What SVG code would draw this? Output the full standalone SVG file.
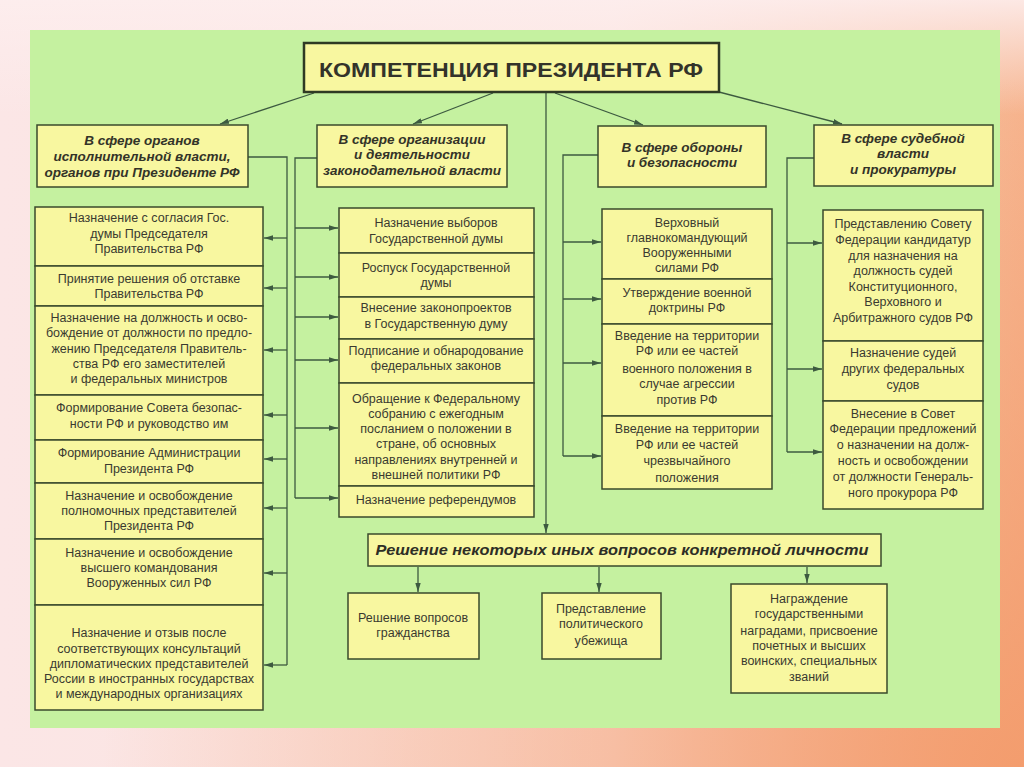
<svg xmlns="http://www.w3.org/2000/svg" width="1024" height="767" viewBox="0 0 1024 767">
<defs>
<linearGradient id="bgH" x1="0" y1="0" x2="1" y2="0">
<stop offset="0" stop-color="#fbe6e6"/>
<stop offset="0.6" stop-color="#fbe2dc"/>
<stop offset="1" stop-color="#f6b48e"/>
</linearGradient>
<radialGradient id="bgR" cx="1" cy="1" r="0.9">
<stop offset="0" stop-color="#f39a6a" stop-opacity="0.9"/>
<stop offset="1" stop-color="#f39a6a" stop-opacity="0"/>
</radialGradient>
<linearGradient id="bgV" x1="0" y1="0" x2="0" y2="1">
<stop offset="0" stop-color="#fdeeee" stop-opacity="0.9"/>
<stop offset="0.15" stop-color="#fdeeee" stop-opacity="0"/>
</linearGradient>
<marker id="ah" viewBox="0 0 10 6" refX="10" refY="3" markerWidth="9" markerHeight="5.5" markerUnits="userSpaceOnUse" orient="auto">
<path d="M0,0 L10,3 L0,6 Z" fill="#3d5a40"/>
</marker>
<style>
.box{fill:#f8f7a0;stroke:#3a4a2c;stroke-width:1.5}
.tbox{fill:#f8f7a0;stroke:#2f3a24;stroke-width:2.5}
.t{font-family:"Liberation Sans",Arial,sans-serif;font-size:12.5px;fill:#3a3a30;text-anchor:middle}
.h{font-family:"Liberation Sans",Arial,sans-serif;font-size:13.5px;font-style:italic;font-weight:bold;fill:#333328;text-anchor:middle}
.title{font-family:"Liberation Sans",Arial,sans-serif;font-size:21px;font-weight:bold;fill:#33332a;text-anchor:middle}
.sub{font-family:"Liberation Sans",Arial,sans-serif;font-size:15px;font-weight:bold;font-style:italic;fill:#2e2e26;text-anchor:middle}
.c{fill:none;stroke:#3d5a40;stroke-width:1.3}
.a{fill:none;stroke:#3d5a40;stroke-width:1.3;marker-end:url(#ah)}
</style>
</defs>
<rect x="0" y="0" width="1024" height="767" fill="url(#bgH)"/>
<rect x="0" y="0" width="1024" height="767" fill="url(#bgR)"/>
<rect x="0" y="0" width="1024" height="767" fill="url(#bgV)"/>
<rect x="30" y="30" width="970" height="698" fill="#c5f1a0"/>

<g id="connectors">
<line class="a" x1="314" y1="93" x2="220" y2="124"/>
<line class="a" x1="493" y1="93" x2="413" y2="124"/>
<line class="a" x1="555" y1="93" x2="643" y2="125"/>
<line class="a" x1="719" y1="92" x2="842" y2="124"/>
<line class="a" x1="546" y1="93" x2="546" y2="533"/>
<polyline class="c" points="248,157 287,157 287,665"/>
<line class="a" x1="287" y1="238" x2="264" y2="238"/>
<line class="a" x1="287" y1="288" x2="264" y2="288"/>
<line class="a" x1="287" y1="350" x2="264" y2="350"/>
<line class="a" x1="287" y1="415" x2="264" y2="415"/>
<line class="a" x1="287" y1="459" x2="264" y2="459"/>
<line class="a" x1="287" y1="508" x2="264" y2="508"/>
<line class="a" x1="287" y1="573" x2="264" y2="573"/>
<line class="a" x1="287" y1="665" x2="264" y2="665"/>
<polyline class="c" points="317,158 295,158 295,498"/>
<line class="a" x1="295" y1="228" x2="338" y2="228"/>
<line class="a" x1="295" y1="277" x2="338" y2="277"/>
<line class="a" x1="295" y1="317" x2="338" y2="317"/>
<line class="a" x1="295" y1="360" x2="338" y2="360"/>
<line class="a" x1="295" y1="428" x2="338" y2="428"/>
<line class="a" x1="295" y1="498" x2="338" y2="498"/>
<polyline class="c" points="598,155 563,155 563,456"/>
<line class="a" x1="563" y1="242" x2="601" y2="242"/>
<line class="a" x1="563" y1="299" x2="601" y2="299"/>
<line class="a" x1="563" y1="363" x2="601" y2="363"/>
<line class="a" x1="563" y1="456" x2="601" y2="456"/>
<polyline class="c" points="814,158 787,158 787,452"/>
<line class="a" x1="787" y1="243" x2="822" y2="243"/>
<line class="a" x1="787" y1="369" x2="822" y2="369"/>
<line class="a" x1="787" y1="452" x2="822" y2="452"/>
<line class="a" x1="418" y1="567" x2="418" y2="592"/>
<line class="a" x1="599" y1="567" x2="599" y2="592"/>
<line class="a" x1="807" y1="567" x2="807" y2="583"/>
</g>

<g id="title">
<rect class="tbox" x="304" y="43" width="415" height="49"/>
<text class="title" x="511" y="77" textLength="384" lengthAdjust="spacingAndGlyphs">КОМПЕТЕНЦИЯ ПРЕЗИДЕНТА РФ</text>
</g>

<g id="h1">
<rect class="box" x="37" y="125" width="211" height="62"/>
<text class="h" x="142" y="145">В сфере органов</text>
<text class="h" x="142" y="161">исполнительной власти,</text>
<text class="h" x="142" y="177">органов при Президенте РФ</text>
</g>
<g id="h2">
<rect class="box" x="317" y="125" width="190" height="62"/>
<text class="h" x="412" y="144">В сфере организации</text>
<text class="h" x="412" y="159">и деятельности</text>
<text class="h" x="412" y="175">законодательной власти</text>
</g>
<g id="h3">
<rect class="box" x="598" y="126" width="168" height="61"/>
<text class="h" x="682" y="152">В сфере обороны</text>
<text class="h" x="682" y="167">и безопасности</text>
</g>
<g id="h4">
<rect class="box" x="814" y="125" width="179" height="61"/>
<text class="h" x="903" y="143">В сфере судебной</text>
<text class="h" x="903" y="158">власти</text>
<text class="h" x="903" y="174">и прокуратуры</text>
</g>

<g id="c1-1">
<rect class="box" x="35" y="207" width="228" height="59"/>
<text class="t" x="149" y="222">Назначение с согласия Гос.</text>
<text class="t" x="149" y="238">думы Председателя</text>
<text class="t" x="149" y="253">Правительства РФ</text>
</g>
<g id="c1-2">
<rect class="box" x="35" y="266" width="228" height="40"/>
<text class="t" x="149" y="283">Принятие решения об отставке</text>
<text class="t" x="149" y="298">Правительства РФ</text>
</g>
<g id="c1-3">
<rect class="box" x="35" y="306" width="228" height="89"/>
<text class="t" x="149" y="322">Назначение на должность и осво-</text>
<text class="t" x="149" y="337">бождение от должности по предло-</text>
<text class="t" x="149" y="353">жению Председателя Правитель-</text>
<text class="t" x="149" y="368">ства РФ его заместителей</text>
<text class="t" x="149" y="383">и федеральных министров</text>
</g>
<g id="c1-4">
<rect class="box" x="35" y="395" width="228" height="45"/>
<text class="t" x="149" y="412">Формирование Совета безопас-</text>
<text class="t" x="149" y="428">ности РФ и руководство им</text>
</g>
<g id="c1-5">
<rect class="box" x="35" y="440" width="228" height="43"/>
<text class="t" x="149" y="457">Формирование Администрации</text>
<text class="t" x="149" y="473">Президента РФ</text>
</g>
<g id="c1-6">
<rect class="box" x="35" y="483" width="228" height="56"/>
<text class="t" x="149" y="500">Назначение и освобождение</text>
<text class="t" x="149" y="515">полномочных представителей</text>
<text class="t" x="149" y="530">Президента РФ</text>
</g>
<g id="c1-7">
<rect class="box" x="35" y="539" width="228" height="66"/>
<text class="t" x="149" y="557">Назначение и освобождение</text>
<text class="t" x="149" y="572">высшего командования</text>
<text class="t" x="149" y="587">Вооруженных сил РФ</text>
</g>
<g id="c1-8">
<rect class="box" x="35" y="605" width="228" height="105"/>
<text class="t" x="149" y="637">Назначение и отзыв после</text>
<text class="t" x="149" y="653">соответствующих консультаций</text>
<text class="t" x="149" y="668">дипломатических представителей</text>
<text class="t" x="149" y="683">России в иностранных государствах</text>
<text class="t" x="149" y="698">и международных организациях</text>
</g>

<g id="c2-1">
<rect class="box" x="339" y="208" width="195" height="45"/>
<text class="t" x="436" y="227">Назначение выборов</text>
<text class="t" x="436" y="243">Государственной думы</text>
</g>
<g id="c2-2">
<rect class="box" x="339" y="253" width="195" height="44"/>
<text class="t" x="436" y="272">Роспуск Государственной</text>
<text class="t" x="436" y="287">думы</text>
</g>
<g id="c2-3">
<rect class="box" x="339" y="297" width="195" height="42"/>
<text class="t" x="436" y="312">Внесение законопроектов</text>
<text class="t" x="436" y="328">в Государственную думу</text>
</g>
<g id="c2-4">
<rect class="box" x="339" y="339" width="195" height="44"/>
<text class="t" x="436" y="355">Подписание и обнародование</text>
<text class="t" x="436" y="370">федеральных законов</text>
</g>
<g id="c2-5">
<rect class="box" x="339" y="383" width="195" height="103"/>
<text class="t" x="436" y="403">Обращение к Федеральному</text>
<text class="t" x="436" y="418">собранию с ежегодным</text>
<text class="t" x="436" y="433">посланием о положении в</text>
<text class="t" x="436" y="448">стране, об основных</text>
<text class="t" x="436" y="464">направлениях внутренней и</text>
<text class="t" x="436" y="479">внешней политики РФ</text>
</g>
<g id="c2-6">
<rect class="box" x="339" y="486" width="195" height="31"/>
<text class="t" x="436" y="504">Назначение референдумов</text>
</g>

<g id="c3-1">
<rect class="box" x="602" y="209" width="170" height="70"/>
<text class="t" x="687" y="227">Верховный</text>
<text class="t" x="687" y="242">главнокомандующий</text>
<text class="t" x="687" y="257">Вооруженными</text>
<text class="t" x="687" y="272">силами РФ</text>
</g>
<g id="c3-2">
<rect class="box" x="602" y="279" width="170" height="45"/>
<text class="t" x="687" y="297">Утверждение военной</text>
<text class="t" x="687" y="312">доктрины РФ</text>
</g>
<g id="c3-3">
<rect class="box" x="602" y="324" width="170" height="92"/>
<text class="t" x="687" y="340">Введение на территории</text>
<text class="t" x="687" y="355">РФ или ее частей</text>
<text class="t" x="687" y="373">военного положения в</text>
<text class="t" x="687" y="388">случае агрессии</text>
<text class="t" x="687" y="404">против РФ</text>
</g>
<g id="c3-4">
<rect class="box" x="602" y="416" width="170" height="73"/>
<text class="t" x="687" y="433">Введение на территории</text>
<text class="t" x="687" y="449">РФ или ее частей</text>
<text class="t" x="687" y="465">чрезвычайного</text>
<text class="t" x="687" y="482">положения</text>
</g>

<g id="c4-1">
<rect class="box" x="823" y="210" width="160" height="131"/>
<text class="t" x="903" y="228">Представлению Совету</text>
<text class="t" x="903" y="244">Федерации кандидатур</text>
<text class="t" x="903" y="260">для назначения на</text>
<text class="t" x="903" y="275">должность судей</text>
<text class="t" x="903" y="291">Конституционного,</text>
<text class="t" x="903" y="306">Верховного и</text>
<text class="t" x="903" y="322">Арбитражного судов РФ</text>
</g>
<g id="c4-2">
<rect class="box" x="823" y="341" width="160" height="60"/>
<text class="t" x="903" y="357">Назначение судей</text>
<text class="t" x="903" y="373">других федеральных</text>
<text class="t" x="903" y="389">судов</text>
</g>
<g id="c4-3">
<rect class="box" x="823" y="401" width="160" height="108"/>
<text class="t" x="903" y="418">Внесение в Совет</text>
<text class="t" x="903" y="433">Федерации предложений</text>
<text class="t" x="903" y="449">о назначении на долж-</text>
<text class="t" x="903" y="465">ность и освобождении</text>
<text class="t" x="903" y="481">от должности Генераль-</text>
<text class="t" x="903" y="497">ного прокурора РФ</text>
</g>

<g id="sub">
<rect class="box" x="368" y="534" width="513" height="32"/>
<text class="sub" x="622" y="555" textLength="493" lengthAdjust="spacingAndGlyphs">Решение некоторых иных вопросов конкретной личности</text>
</g>
<g id="b1">
<rect class="box" x="348" y="593" width="131" height="66"/>
<text class="t" x="413" y="622">Решение вопросов</text>
<text class="t" x="413" y="637">гражданства</text>
</g>
<g id="b2">
<rect class="box" x="542" y="593" width="119" height="66"/>
<text class="t" x="601" y="613">Представление</text>
<text class="t" x="601" y="628">политического</text>
<text class="t" x="601" y="645">убежища</text>
</g>
<g id="b3">
<rect class="box" x="731" y="584" width="156" height="109"/>
<text class="t" x="809" y="603">Награждение</text>
<text class="t" x="809" y="618">государственными</text>
<text class="t" x="809" y="635">наградами, присвоение</text>
<text class="t" x="809" y="650">почетных и высших</text>
<text class="t" x="809" y="665">воинских, специальных</text>
<text class="t" x="809" y="681">званий</text>
</g>
</svg>
